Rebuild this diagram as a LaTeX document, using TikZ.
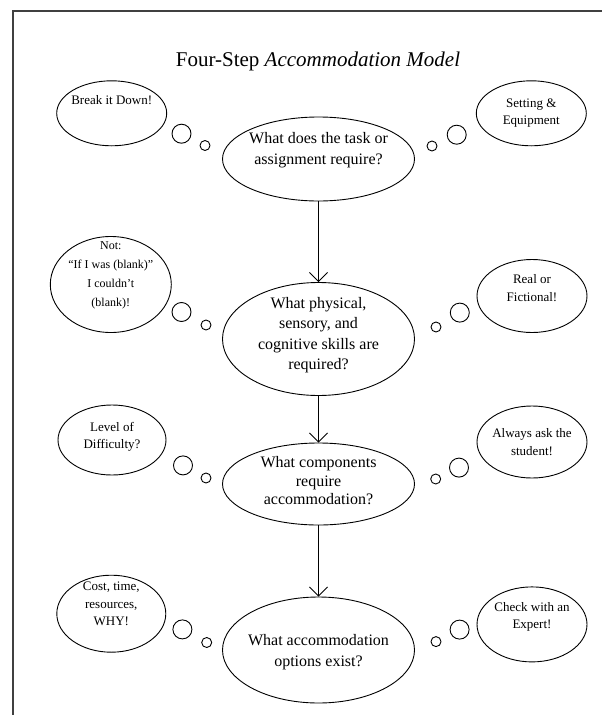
\documentclass[tikz,border=0pt]{standalone}
\usepackage{fontspec}
\setmainfont{Liberation Serif}
\usetikzlibrary{arrows.meta,shapes.geometric}
\tikzset{
  question/.style={draw,ellipse,line width=0.9pt,minimum width=192pt,inner sep=0pt},
  thought/.style={draw,ellipse,line width=0.9pt,minimum width=110pt,inner sep=0pt},
  puff/.style={draw,circle,line width=0.9pt,inner sep=0pt},
  qtext/.style={align=center,font=\fontsize{16}{20.5}\selectfont,inner sep=0pt},
  ttext/.style={align=center,font=\fontsize{13}{17.5}\selectfont,inner sep=0pt},
  flow/.style={-{Straight Barb[length=9pt,width=18pt]},line width=0.8pt}
}
\begin{document}
\begin{tikzpicture}[x=1pt,y=-1pt]
  \useasboundingbox (0,0) rectangle (602,715);
  \draw [line width=1.3pt,black!75] (13,715) -- (13,11) -- (602,11);
  \node [anchor=base,font=\fontsize{21}{25}\selectfont] (title) at (318,66) {Four-Step \textit{Accommodation Model}};

  % the four questions
  \node [question,minimum height=84pt] (q1) at (318.5,159) {};
  \node [qtext] (q1t) at (318.5,150) {What does the task or\\assignment require?};
  \node [question,minimum height=113pt] (q2) at (318.5,339) {};
  \node [qtext] (q2t) at (318.5,335) {What physical,\\sensory, and\\cognitive skills are\\required?};
  \node [question,minimum height=82pt] (q3) at (318.5,484) {};
  \node [qtext,font=\fontsize{16}{18.5}\selectfont] (q3t) at (318.5,481) {What components\\require\\accommodation?};
  \node [question,minimum height=106pt] (q4) at (318.5,650) {};
  \node [qtext] (q4t) at (318.5,652) {What accommodation\\options exist?};

  \draw [flow] (q1) -- (q2);
  \draw [flow] (q2) -- (q3);
  \draw [flow] (q3) -- (q4);

  % thoughts on the left
  \node [thought,minimum height=65pt] (brk) at (111.7,113.3) {};
  \node [ttext] (brkt) at (111.7,100.5) {Break it Down!};
  \node [thought,minimum width=121pt,minimum height=96pt] (nt) at (110.8,284.5) {};
  \node [ttext,font=\fontsize{12}{19}\selectfont] (ntt) at (110.8,275) {Not:\\“If I was (blank)”\\I couldn’t\\(blank)!};
  \node [thought,minimum width=108pt,minimum height=70pt] (lvl) at (112,440) {};
  \node [ttext] (lvlt) at (112,437) {Level of\\Difficulty?};
  \node [thought,minimum width=109pt,minimum height=77pt] (cst) at (111.3,613.7) {};
  \node [ttext] (cstt) at (111.3,604) {Cost, time,\\resources,\\WHY!};

  % thoughts on the right
  \node [thought,minimum height=65pt] (set) at (531.3,113.3) {};
  \node [ttext] (sett) at (531.3,113) {Setting \&\\Equipment};
  \node [thought,minimum height=73pt] (rl) at (532,296) {};
  \node [ttext] (rlt) at (532,288) {Real or\\Fictional!};
  \node [thought,minimum height=72pt] (alw) at (532,442) {};
  \node [ttext] (alwt) at (532,442) {Always ask the\\student!};
  \node [thought,minimum height=75pt] (chk) at (532,624.4) {};
  \node [ttext] (chkt) at (532,617) {Check with an\\Expert!};

  % bubbles
  \node [puff,minimum size=19pt] (p1a) at (181.5,133.7) {};
  \node [puff,minimum size=10pt] (p1b) at (205,145.5) {};
  \node [puff,minimum size=19pt] (p2a) at (181.5,312) {};
  \node [puff,minimum size=10pt] (p2b) at (206,325) {};
  \node [puff,minimum size=19pt] (p3a) at (183,465.4) {};
  \node [puff,minimum size=10pt] (p3b) at (206,478) {};
  \node [puff,minimum size=19pt] (p4a) at (182.4,629.4) {};
  \node [puff,minimum size=10pt] (p4b) at (206.7,642.5) {};

  \node [puff,minimum size=19pt] (r1a) at (456.7,134.7) {};
  \node [puff,minimum size=10pt] (r1b) at (432,146) {};
  \node [puff,minimum size=19pt] (r2a) at (459.8,312.6) {};
  \node [puff,minimum size=10pt] (r2b) at (436,327) {};
  \node [puff,minimum size=19pt] (r3a) at (459,467.6) {};
  \node [puff,minimum size=10pt] (r3b) at (435.7,479) {};
  \node [puff,minimum size=19pt] (r4a) at (459.6,629.6) {};
  \node [puff,minimum size=10pt] (r4b) at (436,641.6) {};
\end{tikzpicture}
\end{document}
